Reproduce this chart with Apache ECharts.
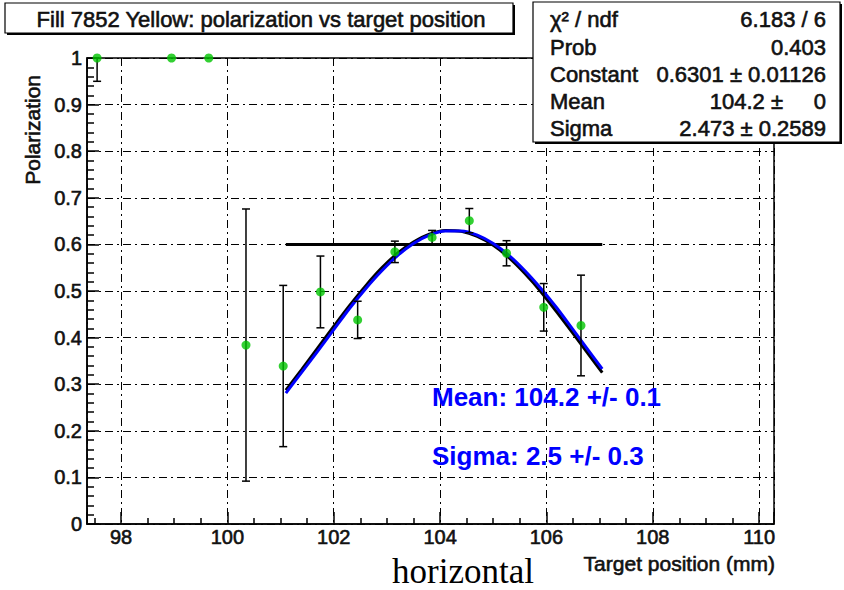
<!DOCTYPE html>
<html>
<head>
<meta charset="utf-8">
<script src="https://cdn.jsdelivr.net/npm/echarts@6/dist/echarts.min.js"></script>
<style>
html,body{margin:0;padding:0;background:#fff;}
#chart{width:844px;height:590px;}
</style>
</head>
<body>
<div id="chart"></div>
<script>
// ---- data ----
const posX   = [97.55, 98.95, 99.65, 100.35, 101.05, 101.75, 102.45, 103.15, 103.85, 104.55, 105.25, 105.95, 106.65];
const pol    = [1.0, 1.0, 1.0, 0.384, 0.339, 0.498, 0.438, 0.584, 0.615, 0.651, 0.581, 0.465, 0.426];
const polErr = [0.05, 0, 0, 0.292, 0.173, 0.077, 0.040, 0.023, 0.015, 0.026, 0.027, 0.051, 0.108];

// fit curve samples (black) and drawn curve (blue)
const fitX     = [101.1, 101.4, 101.7, 102.0, 102.3, 102.6, 102.9, 103.2, 103.5, 103.8, 104.1, 104.4, 104.7, 105.0, 105.3, 105.6, 105.9, 106.2, 106.5, 106.8, 107.05];
const fitBlack = [0.287, 0.332, 0.378, 0.424, 0.469, 0.511, 0.549, 0.581, 0.605, 0.622, 0.630, 0.628, 0.617, 0.598, 0.571, 0.537, 0.498, 0.454, 0.409, 0.363, 0.325];
const fitBlue  = [0.281, 0.326, 0.371, 0.417, 0.463, 0.505, 0.543, 0.576, 0.602, 0.620, 0.629, 0.629, 0.620, 0.602, 0.576, 0.543, 0.505, 0.463, 0.417, 0.371, 0.333];

const refLineX = [101.1, 107.05];
const refLineY = 0.6;

const xTickLabels = ['98', '100', '102', '104', '106', '108', '110'];

const titleText = 'Fill 7852 Yellow: polarization vs target position';
const chi2Name   = '\u03c7\u00b2 / ndf';
const statNames  = ['Prob', 'Constant', 'Mean', 'Sigma'];
const statValues = ['0.403', '0.6301 \u00b1 0.01126', '104.2 \u00b1', '2.473 \u00b1 0.2589'];
const chi2Value  = '6.183 / 6';
const meanErrValue = '0';
const annotMean  = 'Mean: 104.2 +/- 0.1';
const annotSigma = 'Sigma: 2.5 +/- 0.3';
const xTitle = 'Target position (mm)';
const yTitle = 'Polarization';
const footText = 'horizontal';

// ---- build ----
const FONT = 'Liberation Sans, Arial, sans-serif';
const pts = posX.map((x, i) => [x, pol[i], polErr[i]]);
const blackCurve = fitX.map((x, i) => [x, fitBlack[i]]);
const blueCurve = fitX.map((x, i) => [x, fitBlue[i]]);
const hLine = refLineX.map(x => [x, refLineY]);

const chart = echarts.init(document.getElementById('chart'), null, {renderer: 'svg'});

const YMAX = 1.0, YMIN = 0;
const TXT = '#111';
const txtStyle = (font, align, extra) => Object.assign({font: font, fill: TXT, stroke: TXT, lineWidth: 0.6, align: align, verticalAlign: 'middle'}, extra || {});

const option = {
  animation: false,
  backgroundColor: '#fff',
  grid: {left: 87, right: 70, top: 58, bottom: 66, show: true, borderColor: '#000', borderWidth: 1.5, backgroundColor: 'transparent'},
  xAxis: {
    type: 'value', min: 97.36, max: 110.28, splitNumber: 6,
    axisLine: {show: true, onZero: false, lineStyle: {color: '#000', width: 1.5}},
    axisTick: {show: true, inside: true, length: 12, lineStyle: {color: '#000', width: 1.5}},
    minorTick: {show: true, splitNumber: 4, length: 6, lineStyle: {color: '#000', width: 1.5}},
    splitLine: {show: true, lineStyle: {color: '#000', width: 1, type: [8, 4, 2, 4]}},
    axisLabel: {
      showMinLabel: false, showMaxLabel: false, color: TXT, fontSize: 20, fontFamily: FONT, margin: 3,
      textBorderColor: TXT, textBorderWidth: 0.6,
      formatter: v => { const s = String(Math.round(v)); return xTickLabels.indexOf(s) >= 0 && Math.abs(v - Math.round(v)) < 1e-6 ? s : ''; }
    }
  },
  yAxis: {
    type: 'value', min: YMIN, max: YMAX, interval: 0.1,
    axisLine: {show: true, onZero: false, lineStyle: {color: '#000', width: 1.5}},
    axisTick: {show: true, inside: true, length: 12, lineStyle: {color: '#000', width: 1.5}},
    minorTick: {show: true, splitNumber: 5, length: 7, lineStyle: {color: '#000', width: 1.5}},
    splitLine: {show: true, lineStyle: {color: '#000', width: 1, type: [8, 4, 2, 4]}},
    axisLabel: {
      color: TXT, fontSize: 20, fontFamily: FONT, margin: 5,
      textBorderColor: TXT, textBorderWidth: 0.6,
      formatter: v => (Math.abs(v) < 1e-9 ? '0' : Math.abs(v - 1) < 1e-9 ? '1' : v.toFixed(1))
    }
  },
  series: [
    {type: 'line', data: hLine, symbol: 'none', lineStyle: {color: '#000', width: 3}, z: 3},
    {type: 'line', data: blackCurve, symbol: 'none', smooth: 0.3, lineStyle: {color: '#000', width: 3}, z: 3},
    {type: 'line', data: blueCurve, symbol: 'none', smooth: 0.3, lineStyle: {color: '#0000ff', width: 3}, z: 4},
    {
      type: 'custom', data: pts, z: 5,
      renderItem: function (params, api) {
        const x = api.value(0), y = api.value(1), e = api.value(2);
        if (!e) return null;
        const hi = Math.min(y + e, YMAX), lo = Math.max(y - e, YMIN);
        const t = api.coord([x, hi]), b = api.coord([x, lo]);
        const cw = 4;
        const st = {stroke: '#000', lineWidth: 1.5};
        const ch = [{type: 'line', shape: {x1: t[0], y1: t[1], x2: b[0], y2: b[1]}, style: st}];
        if (y + e <= YMAX) ch.push({type: 'line', shape: {x1: t[0] - cw, y1: t[1], x2: t[0] + cw, y2: t[1]}, style: st});
        if (y - e >= YMIN) ch.push({type: 'line', shape: {x1: b[0] - cw, y1: b[1], x2: b[0] + cw, y2: b[1]}, style: st});
        return {type: 'group', children: ch};
      }
    },
    {type: 'scatter', data: pts.map(p => [p[0], p[1]]), symbol: 'circle', symbolSize: 9, itemStyle: {color: '#00c400'}, z: 6}
  ],
  graphic: [
    // title box
    {type: 'rect', shape: {x: 7, y: 5, width: 508, height: 30}, style: {fill: '#000'}, z: 100},
    {type: 'rect', shape: {x: 5, y: 3, width: 508, height: 30}, style: {fill: '#fff', stroke: '#000', lineWidth: 1.2}, z: 101},
    {type: 'text', x: 261, y: 19, style: txtStyle('22px ' + FONT, 'center', {text: titleText}), z: 102},
    // stats box
    {type: 'rect', shape: {x: 535, y: 4, width: 307, height: 140}, style: {fill: '#000'}, z: 100},
    {type: 'rect', shape: {x: 533, y: 2, width: 307, height: 140}, style: {fill: '#fff', stroke: '#000', lineWidth: 1.2}, z: 101},
    {type: 'text', x: 550, y: 19, z: 102, style: txtStyle('22px ' + FONT, 'left', {text: chi2Name})},
    {type: 'text', x: 826, y: 19, z: 102, style: txtStyle('22px ' + FONT, 'right', {text: chi2Value})},
    ...statNames.map((n, i) => ({type: 'text', x: 550, y: 47 + i * 27.3, z: 102, style: txtStyle('22px ' + FONT, 'left', {text: n})})),
    ...statValues.map((v, i) => ({type: 'text', x: i === 2 ? 783 : 826, y: 47 + i * 27.3, z: 102, style: txtStyle('22px ' + FONT, 'right', {text: v})})),
    {type: 'text', x: 826, y: 47 + 2 * 27.3, z: 102, style: txtStyle('22px ' + FONT, 'right', {text: meanErrValue})},
    // blue annotations
    {type: 'text', x: 432, y: 397, z: 50, style: {text: annotMean, font: 'bold 26px ' + FONT, fill: '#0000ff', align: 'left', verticalAlign: 'middle'}},
    {type: 'text', x: 432, y: 456, z: 50, style: {text: annotSigma, font: 'bold 26px ' + FONT, fill: '#0000ff', align: 'left', verticalAlign: 'middle'}},
    // axis titles
    {type: 'text', x: 775, y: 563, z: 50, style: txtStyle('21px ' + FONT, 'right', {text: xTitle})},
    {type: 'text', x: 32, y: 75, rotation: Math.PI / 2, z: 50, style: txtStyle('21px ' + FONT, 'right', {text: yTitle})},
    // footer
    {type: 'text', x: 463, y: 571, z: 50, style: {text: footText, font: '35px Liberation Serif, Times New Roman, serif', fill: '#000', align: 'center', verticalAlign: 'middle'}}
  ]
};
chart.setOption(option);
</script>
</body>
</html>
